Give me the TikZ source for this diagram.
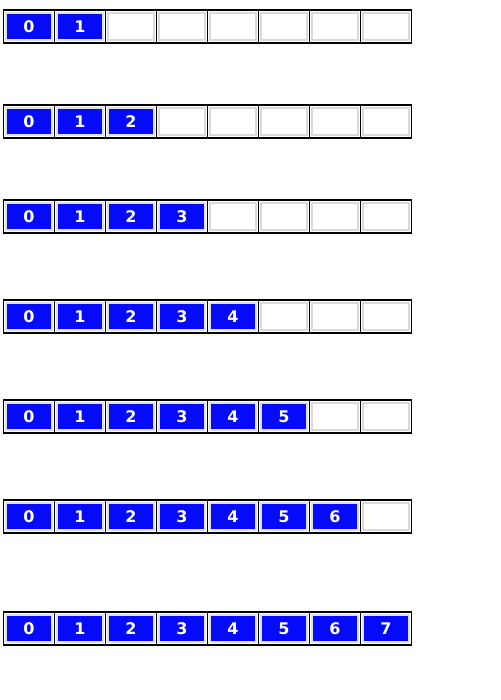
\documentclass[tikz,border=0pt]{standalone}
\usepackage{fontspec}
\setsansfont{DejaVu Sans}
\begin{document}
\begin{tikzpicture}[x=1pt,y=-1pt,
  cellframe/.style={draw=black,line width=1.4pt,fill=white,minimum width=51pt,minimum height=33pt,inner sep=0pt,outer sep=0pt},
  emptyin/.style={draw=black!15,line width=1.6pt,fill=white,minimum width=46pt,minimum height=27pt,inner sep=0pt},
  fullin/.style={draw=black!12,line width=1.6pt,fill=blockblue,minimum width=46pt,minimum height=27pt,inner sep=0pt,text=white,font=\sffamily\bfseries\fontsize{16}{16}\selectfont}]
\definecolor{blockblue}{RGB}{5,10,250}
\useasboundingbox (0,0) rectangle (500,700);
\fill[white] (0,0) rectangle (500,700);
\foreach \r/\yy/\n in {1/10/2,2/105/3,3/200/4,4/300/5,5/400/6,6/500/7,7/612/8}{
  \foreach \c in {0,...,7}{
    \pgfmathsetmacro{\xx}{3.5+51*\c+25.5}
    \node[cellframe] (f\r c\c) at (\xx,\yy+16.5) {};
    \ifnum\c<\n
      \node[fullin] (b\r c\c) at (f\r c\c.center) {\c};
    \else
      \node[emptyin] (b\r c\c) at (f\r c\c.center) {};
    \fi
  }
  \draw[black,line width=1.6pt] (f\r c0.north west) rectangle (f\r c7.south east);
}
\end{tikzpicture}
\end{document}
